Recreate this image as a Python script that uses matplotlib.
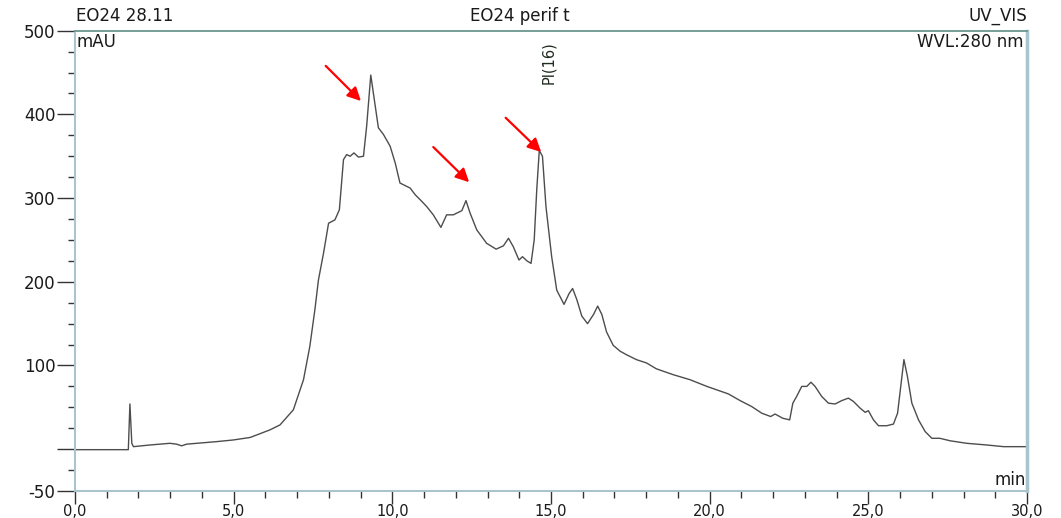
import matplotlib
matplotlib.use("Agg")
import matplotlib.pyplot as plt
from matplotlib.ticker import MultipleLocator, FixedLocator

# retention time (min) and absorbance (mAU)
rt_min = [
    0.0, 1.68, 1.73, 1.79, 1.84, 2.36, 2.99, 3.20, 3.36, 3.52,
    4.46, 4.99, 5.52, 6.14, 6.46, 6.88, 7.04, 7.20, 7.40, 7.56,
    7.67, 7.83, 7.99, 8.19, 8.33, 8.46, 8.56, 8.67, 8.79, 8.93,
    9.09, 9.19, 9.32, 9.43, 9.56, 9.72, 9.93, 10.09, 10.24, 10.56,
    10.72, 10.93, 11.08, 11.29, 11.53, 11.71, 11.92, 12.19, 12.32, 12.45,
    12.66, 12.97, 13.27, 13.50, 13.66, 13.81, 13.99, 14.10, 14.24, 14.37,
    14.47, 14.55, 14.63, 14.73, 14.84, 15.02, 15.18, 15.41, 15.57, 15.68,
    15.81, 15.97, 16.15, 16.34, 16.47, 16.60, 16.75, 16.96, 17.18, 17.37,
    17.69, 18.01, 18.32, 18.85, 19.38, 19.91, 20.59, 20.96, 21.32, 21.64,
    21.92, 22.06, 22.30, 22.52, 22.62, 22.74, 22.90, 23.06, 23.19, 23.32,
    23.53, 23.74, 23.95, 24.16, 24.37, 24.53, 24.74, 24.90, 25.00, 25.16,
    25.32, 25.58, 25.79, 25.92, 26.02, 26.12, 26.23, 26.37, 26.58, 26.79,
    27.00, 27.25, 27.58, 28.10, 28.73, 29.26, 30.0,
]
absorbance_mau = [
    -0.6, -0.6, 54, 7, 3, 5, 7, 6, 4, 6,
    9, 11, 14, 23, 29, 47, 65, 83, 123, 167,
    202, 234, 270, 274, 286, 346, 352, 350, 354, 349,
    350, 386, 447, 418, 384, 376, 362, 342, 318, 312,
    304, 296, 290, 280, 265, 280, 280, 285, 297, 282,
    262, 246, 239, 243, 252, 242, 226, 230, 225, 222,
    250, 310, 357, 350, 290, 230, 190, 173, 186, 192,
    179, 159, 150, 161, 171, 161, 140, 124, 117, 113,
    107, 103, 96, 89, 83, 75, 66, 58, 51, 43,
    39, 42, 37, 35, 55, 63, 75, 75, 80, 75,
    63, 55, 54, 58, 61, 57, 49, 44, 46, 35,
    28, 28, 30, 43, 75, 107, 87, 55, 35, 21,
    13, 13, 10, 7, 5, 3, 3,
]

x_ticks = [0, 5, 10, 15, 20, 25, 30]
x_tick_labels = ["0,0", "5,0", "10,0", "15,0", "20,0", "25,0", "30,0"]
y_ticks = [-50, 0, 100, 200, 300, 400, 500]
y_tick_labels = ["-50", "", "100", "200", "300", "400", "500"]

# red arrows: (tail, head) in (min, mAU)
arrow_tails = [(7.90, 458), (11.29, 361), (13.57, 396)]
arrow_heads = [(9.01, 416), (12.42, 319), (14.69, 355)]

peak_label = "Pl(16)"
peak_label_pos = (14.91, 436)

font = "DejaVu Sans"
fs = 12
text_col = "#1a1a1a"
spine_col = "#a9c4cc"

fig = plt.figure(figsize=(10.61, 5.18), dpi=100)
ax = fig.add_axes([0.0707, 0.0521, 0.8973, 0.8886])

ax.plot(rt_min, absorbance_mau, color="#4d4d4d", linewidth=1.0)

ax.set_xlim(0, 30)
ax.set_ylim(-50, 500)

ax.xaxis.set_major_locator(FixedLocator(x_ticks))
ax.set_xticklabels(x_tick_labels)
ax.xaxis.set_minor_locator(MultipleLocator(1))
ax.yaxis.set_major_locator(FixedLocator(y_ticks))
ax.set_yticklabels(y_tick_labels)
ax.yaxis.set_minor_locator(MultipleLocator(25))

ax.tick_params(axis="x", which="major", length=9, width=1, color="#333333", pad=0.5)
ax.tick_params(axis="x", which="minor", length=5, width=1, color="#333333")
ax.tick_params(axis="y", which="major", length=13, width=1, color="#333333", pad=1)
ax.tick_params(axis="y", which="minor", length=5, width=1, color="#333333")
for lab in ax.get_yticklabels():
    lab.set_fontfamily(font)
    lab.set_fontsize(fs)
    lab.set_color(text_col)
for lab in ax.get_xticklabels():
    lab.set_fontfamily(font)
    lab.set_fontsize(10.5)
    lab.set_color(text_col)

for side in ["left", "bottom"]:
    ax.spines[side].set_color(spine_col)
    ax.spines[side].set_linewidth(1.5)
ax.spines["right"].set_color(spine_col)
ax.spines["right"].set_linewidth(2.5)
ax.spines["top"].set_color("#5f8f85")
ax.spines["top"].set_linewidth(1.2)

# header texts
ax.text(0.001, 1.012, "EO24 28.11", transform=ax.transAxes, ha="left", va="bottom",
        fontsize=fs, family=font, color=text_col)
ax.text(0.415, 1.012, "EO24 perif t", transform=ax.transAxes, ha="left", va="bottom",
        fontsize=fs, family=font, color=text_col)
ax.text(1.0, 1.012, "UV_VIS", transform=ax.transAxes, ha="right", va="bottom",
        fontsize=fs, family=font, color=text_col)
ax.text(0.002, 0.995, "mAU", transform=ax.transAxes, ha="left", va="top",
        fontsize=fs, family=font, color=text_col)
ax.text(0.996, 0.995, "WVL:280 nm", transform=ax.transAxes, ha="right", va="top",
        fontsize=fs, family=font, color=text_col)
ax.text(0.999, 0.005, "min", transform=ax.transAxes, ha="right", va="bottom",
        fontsize=fs, family=font, color=text_col)

ax.text(peak_label_pos[0], peak_label_pos[1], peak_label, rotation=90,
        ha="center", va="bottom", fontsize=10.5, family=font, color="#1f2a1f")

for tail, head in zip(arrow_tails, arrow_heads):
    ax.annotate("", xy=head, xytext=tail,
                arrowprops=dict(arrowstyle="-|>", color="#ff0000", lw=1.6,
                                mutation_scale=20, shrinkA=0, shrinkB=0))

fig.savefig("out.png", dpi=100, facecolor="white")
